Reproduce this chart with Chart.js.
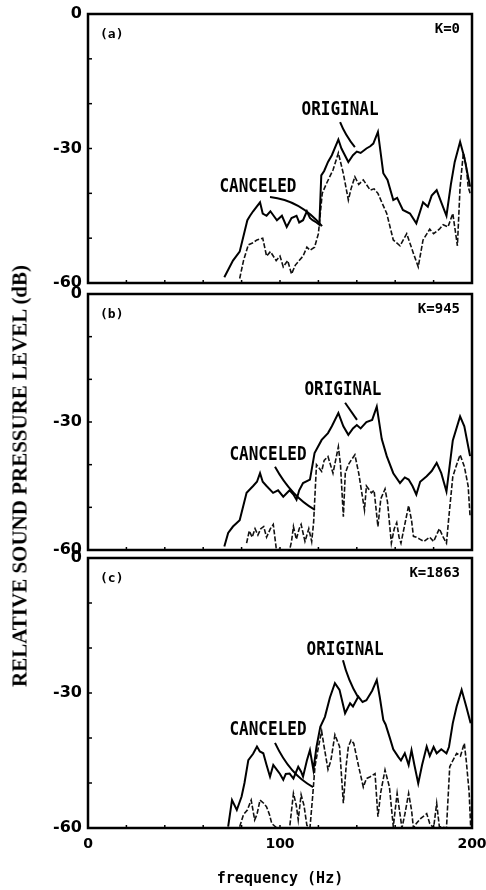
<!DOCTYPE html>
<html>
<head>
<meta charset="utf-8">
<script src="https://cdn.jsdelivr.net/npm/chart.js@4.4.1/dist/chart.umd.min.js"></script>
<style>
html, body { margin: 0; padding: 0; background: #fff; }
body { width: 486px; height: 890px; position: relative; overflow: hidden; }
canvas { position: absolute; left: 0; }
#ytitle {
    position: absolute; left: 20px; top: 476px;
    transform: translate(-50%, -50%) rotate(-90deg);
    font: bold 21px "Liberation Serif", serif; white-space: nowrap; color: #000;
}
</style>
</head>
<body>
<canvas id="chart-a" width="486" height="292" style="top:0px"></canvas>
<canvas id="chart-b" width="486" height="272" style="top:286px"></canvas>
<canvas id="chart-c" width="486" height="342" style="top:548px"></canvas>
<div id="ytitle">RELATIVE SOUND PRESSURE LEVEL (dB)</div>
<script>
// frequency (Hz) and level (dB)
const freqA_orig  = [71, 75.5, 79, 83, 84.4, 86, 89.6, 91, 93, 95, 98.4, 101, 103.5, 106, 108.6, 110, 112, 114, 115.6, 117, 119, 120.5, 121.5, 123, 125, 127, 130.4, 132, 135.6, 138, 140, 142, 145, 147, 148.6, 151, 153.8, 156, 159, 161, 164, 167.7, 171, 174.5, 177, 179, 181.6, 184, 186.7, 189, 191, 193.8, 196, 199];
const levelA_orig = [-58.7, -55, -53, -46, -45, -44, -42, -44.5, -45, -44, -46, -45, -47.5, -45.5, -45, -46.5, -46, -44, -45.5, -46, -46.5, -47, -36, -35, -33, -31.5, -28, -30, -33, -31.5, -30.7, -31, -30, -29.5, -28.9, -26.3, -35.5, -37, -41.5, -41, -43.7, -44.5, -46.7, -42, -43, -40.5, -39.3, -42, -45, -38, -33, -28.5, -32, -38.5];
const freqA_canc  = [79, 81, 83.5, 86, 88, 91, 93, 95, 98, 100, 101.7, 104, 106, 108, 110, 112, 114, 115.6, 118, 120, 122, 124, 127.6, 130.4, 133, 135.6, 137, 139, 141, 143.4, 147, 149, 151, 153, 155.6, 159, 162.5, 166, 169.5, 172, 174.5, 178, 180, 183, 185, 187.5, 190, 192.4, 193.8, 195.5, 197, 198, 199];
const levelA_canc = [-59, -55, -51.5, -51, -50.4, -50, -54, -53, -55, -54, -56.4, -55, -58, -56, -55, -54, -52, -52.7, -52, -49, -40, -38, -34.8, -31, -35.6, -41.5, -39, -36.3, -38, -37, -39.3, -39, -40, -42, -44.5, -50.4, -51.7, -49, -53.4, -56.4, -50.4, -48, -49, -48, -47, -47.5, -44.5, -51.7, -38.5, -31, -34, -38.5, -40];

const freqB_orig  = [71, 73, 75.5, 79, 82.6, 86, 88, 89.6, 91, 93, 96.4, 99, 101.7, 105, 107, 108.6, 110, 112, 115.6, 118, 121.7, 125, 127, 130.4, 133, 135.6, 138, 140, 142, 145, 148, 150.4, 153, 155.6, 159, 162.5, 165, 167, 169, 171, 173, 176.4, 179, 181.6, 184, 186.7, 190, 193.8, 196, 199];
const levelB_orig = [-59.2, -56, -54.5, -53, -46.6, -45, -44, -42, -44, -45, -46.6, -46, -47.5, -46, -47, -48.2, -46, -44.3, -43.5, -37.3, -34.2, -32.6, -31, -27.9, -31, -33, -31.5, -30.7, -31.5, -30, -29.5, -26.4, -34, -38, -42, -44.3, -43, -43.5, -45, -47, -44, -42.7, -41.5, -39.6, -42, -46.3, -34.3, -28.7, -31, -38];
const freqB_canc  = [82.6, 84, 85.5, 87, 88.5, 90, 91.5, 93, 95, 96.5, 98, 100, 105, 106, 107, 108.5, 110, 111, 113, 115, 116.5, 117.5, 119, 121.7, 123, 125, 127.6, 130.4, 131.5, 133, 134, 135.6, 137, 139, 141, 144, 145, 147.6, 149, 151, 152.5, 154.7, 156, 158, 159.5, 160.8, 162, 163, 165, 167, 168.5, 169.5, 171, 173, 175, 178, 180, 183, 185, 186.7, 188, 190, 192, 193.8, 196, 198, 199];
const levelB_canc = [-58.4, -55.5, -57, -55, -56.5, -55, -54.5, -57, -55, -54, -59.5, -60, -60, -58, -54.5, -57.5, -55, -54, -58, -55, -58, -53.6, -40, -41.6, -39, -38.1, -42, -35.8, -40, -52.2, -42, -40, -39, -37.7, -42, -50.6, -45, -46.6, -46, -54.5, -48, -45.7, -48.8, -58.4, -55, -53.6, -57, -58.4, -54, -49.6, -53, -56.8, -57, -57.5, -58, -57, -58, -55, -57, -58.4, -52, -42.8, -40, -37.7, -40.4, -45, -52.2];

const freqC_orig  = [73, 75, 77.5, 80, 81.5, 83.5, 86, 88, 89.5, 91.3, 93, 94.8, 96.5, 98.4, 100, 101.7, 103, 105, 107, 109.5, 111, 112, 114, 115.6, 117.4, 119, 121, 123.4, 126, 128.6, 131, 133.9, 136.5, 138, 140.8, 143, 145, 148, 150.4, 152, 153.8, 155, 157, 159, 161.6, 163, 165, 167, 168.5, 170, 172, 174, 176.4, 178, 180, 181.6, 184, 186.7, 188, 190, 192, 194.6, 197, 199.3];
const levelC_orig = [-59.7, -53.8, -56, -53, -50, -44.9, -43.5, -41.9, -43, -43.4, -46, -48.6, -46, -47.1, -48, -49.3, -48, -47.9, -49, -46.4, -47.5, -48.6, -45, -42.7, -47.1, -42, -37.5, -35.3, -31, -27.8, -29.3, -34.5, -32.3, -33, -30.8, -32, -31.6, -29.5, -27.1, -31, -36, -37, -39.7, -42.5, -44.2, -45, -43.4, -46, -42.7, -46, -50.1, -46, -41.9, -44, -42, -43.4, -42.5, -43.4, -42, -36.7, -33, -29.3, -33, -36.7];
const freqC_canc  = [79, 81, 83, 85, 86.8, 88, 89.6, 91.5, 93, 94.5, 95.7, 98.4, 105, 107, 108.5, 109.5, 111, 112.5, 114, 115.6, 117, 118.2, 120, 121.7, 123, 125, 126.5, 128.6, 131, 133, 134.5, 135.6, 137, 138.4, 141, 143.4, 145, 147, 149.5, 151, 152.5, 154.7, 157, 159, 161, 163.5, 165, 167, 168.5, 169.5, 171, 173, 176.4, 178, 180, 181.6, 183, 186.7, 188.4, 190, 192, 194, 196, 197, 198.5, 199.3];
const levelC_canc = [-59.7, -57, -56, -53.8, -58.2, -57, -53.8, -54.5, -55.3, -57, -59, -60, -60, -52.3, -55, -58.2, -52.6, -55, -59.4, -60, -53, -46.4, -42, -38.5, -42, -47, -45, -39.3, -41.9, -54.5, -46, -41.9, -40.5, -41.2, -46.4, -50.9, -49, -48.6, -47.9, -57.5, -52, -47.1, -50.9, -59.7, -52.3, -60, -57, -52.3, -56, -60, -59, -58, -56.8, -59, -60, -54.5, -59.7, -60, -46.4, -45, -43.4, -44, -41.2, -45, -52, -59.7];

const yTicks = [0, -30, -60];
const xTicks = [0, 100, 200];
const panelLabels = ["(a)", "(b)", "(c)"];
const kLabels = ["K=0", "K=945", "K=1863"];

const pts = (xs, ys) => xs.map((x, i) => ({ x, y: ys[i] }));

// frame, inner ticks and the text labels with their pointer lines
const panelDeco = {
    id: "panelDeco",
    afterDatasetsDraw(chart, args, opts) {
        const { ctx, chartArea: a, scales } = chart;
        const sx = scales.x, sy = scales.y;
        ctx.save();
        ctx.strokeStyle = "#000";
        ctx.lineWidth = 2.5;
        ctx.strokeRect(a.left, a.top, a.right - a.left, a.bottom - a.top);

        ctx.lineWidth = 1.5;
        for (let v = -50; v <= -10; v += 10) {
            const py = sy.getPixelForValue(v);
            ctx.beginPath(); ctx.moveTo(a.left, py); ctx.lineTo(a.left + 4, py); ctx.stroke();
        }
        for (let v = 20; v < 200; v += 20) {
            const px = sx.getPixelForValue(v);
            ctx.beginPath(); ctx.moveTo(px, a.bottom); ctx.lineTo(px, a.bottom - 3); ctx.stroke();
        }

        ctx.fillStyle = "#000";
        ctx.font = 'bold 13px "DejaVu Sans Mono"';
        ctx.textBaseline = "middle";
        ctx.textAlign = "left";
        ctx.fillText(opts.panel, a.left + 12, a.top + 21);
        ctx.textAlign = "right";
        ctx.font = 'bold 14px "DejaVu Sans Mono"';
        ctx.fillText(opts.k, a.right - 12, a.top + 15);

        ctx.textAlign = "center";
        ctx.font = 'bold 16px "DejaVu Sans Mono"';
        opts.notes.forEach(n => {
            const tx = sx.getPixelForValue(n.at[0]), ty = sy.getPixelForValue(n.at[1]);
            ctx.save();
            ctx.translate(tx, ty);
            ctx.scale(1, 1.2);
            ctx.fillText(n.text, 0, 0);
            ctx.restore();
            const p = n.line.map(q => [sx.getPixelForValue(q[0]), sy.getPixelForValue(q[1])]);
            ctx.lineWidth = 2;
            ctx.beginPath();
            ctx.moveTo(p[0][0], p[0][1]);
            ctx.quadraticCurveTo(p[1][0], p[1][1], p[2][0], p[2][1]);
            ctx.stroke();
        });
        ctx.restore();
    }
};

function makeChart(id, orig, canc, padTop, padBottom, showX, deco) {
    return new Chart(document.getElementById(id), {
        type: "line",
        data: {
            datasets: [
                { data: orig, borderColor: "#000", borderWidth: 2, pointRadius: 0, tension: 0 },
                { data: canc, borderColor: "#111", borderWidth: 1.6, borderDash: [5, 2], pointRadius: 0, tension: 0 }
            ]
        },
        options: {
            responsive: false,
            animation: false,
            layout: { padding: { left: 48, right: 14, top: padTop, bottom: padBottom } },
            plugins: { legend: { display: false }, tooltip: { enabled: false }, panelDeco: deco },
            scales: {
                x: {
                    type: "linear", min: 0, max: 200, display: showX,
                    afterFit: s => { s.height = showX ? 62 : 0; s.paddingLeft = 0; s.paddingRight = 0; },
                    grid: { display: false, drawTicks: false },
                    border: { display: false },
                    ticks: {
                        stepSize: 20, autoSkip: false, padding: 8, color: "#000",
                        font: { family: "DejaVu Sans", size: 14, weight: "bold" },
                        callback: v => xTicks.includes(v) ? String(v) : ""
                    },
                    title: {
                        display: true, text: "frequency (Hz)", color: "#000",
                        font: { family: "DejaVu Sans Mono", size: 15, weight: "bold" },
                        padding: { top: 0, bottom: 2 }
                    }
                },
                y: {
                    min: -60, max: 0,
                    afterFit: s => { s.width = 40; s.paddingTop = 0; s.paddingBottom = 0; },
                    grid: { display: false, drawTicks: false },
                    border: { display: false },
                    ticks: {
                        stepSize: 10, autoSkip: false, padding: 6, color: "#000",
                        font: { family: "DejaVu Sans", size: 16, weight: "bold" },
                        callback: v => yTicks.includes(v) ? String(v) : ""
                    }
                }
            }
        },
        plugins: [panelDeco]
    });
}

makeChart("chart-a", pts(freqA_orig, levelA_orig), pts(freqA_canc, levelA_canc), 14, 9, false, {
    panel: panelLabels[0], k: kLabels[0],
    notes: [
        { text: "ORIGINAL", at: [131.3, -21.4], line: [[131.3, -24.1], [134, -27], [139, -29.7]] },
        { text: "CANCELED", at: [88.5, -38.6], line: [[94.8, -40.8], [110.4, -41.5], [121.9, -47.3]] }
    ]
});
makeChart("chart-b", pts(freqB_orig, levelB_orig), pts(freqB_canc, levelB_canc), 8, 8, false, {
    panel: panelLabels[1], k: kLabels[1],
    notes: [
        { text: "ORIGINAL", at: [132.8, -22.5], line: [[133.9, -25.5], [137, -27.5], [140.1, -29.5]] },
        { text: "CANCELED", at: [93.75, -37.7], line: [[97.4, -40.5], [106, -47.5], [118.2, -50.6]] }
    ]
});
makeChart("chart-c", pts(freqC_orig, levelC_orig), pts(freqC_canc, levelC_canc), 10, 0, true, {
    panel: panelLabels[2], k: kLabels[2],
    notes: [
        { text: "ORIGINAL", at: [133.9, -20.4], line: [[132.8, -22.7], [135.4, -27.1], [140.6, -30.9]] },
        { text: "CANCELED", at: [93.75, -38.2], line: [[97.4, -41.1], [105.2, -48.2], [117.2, -50.9]] }
    ]
});
</script>
</body>
</html>
